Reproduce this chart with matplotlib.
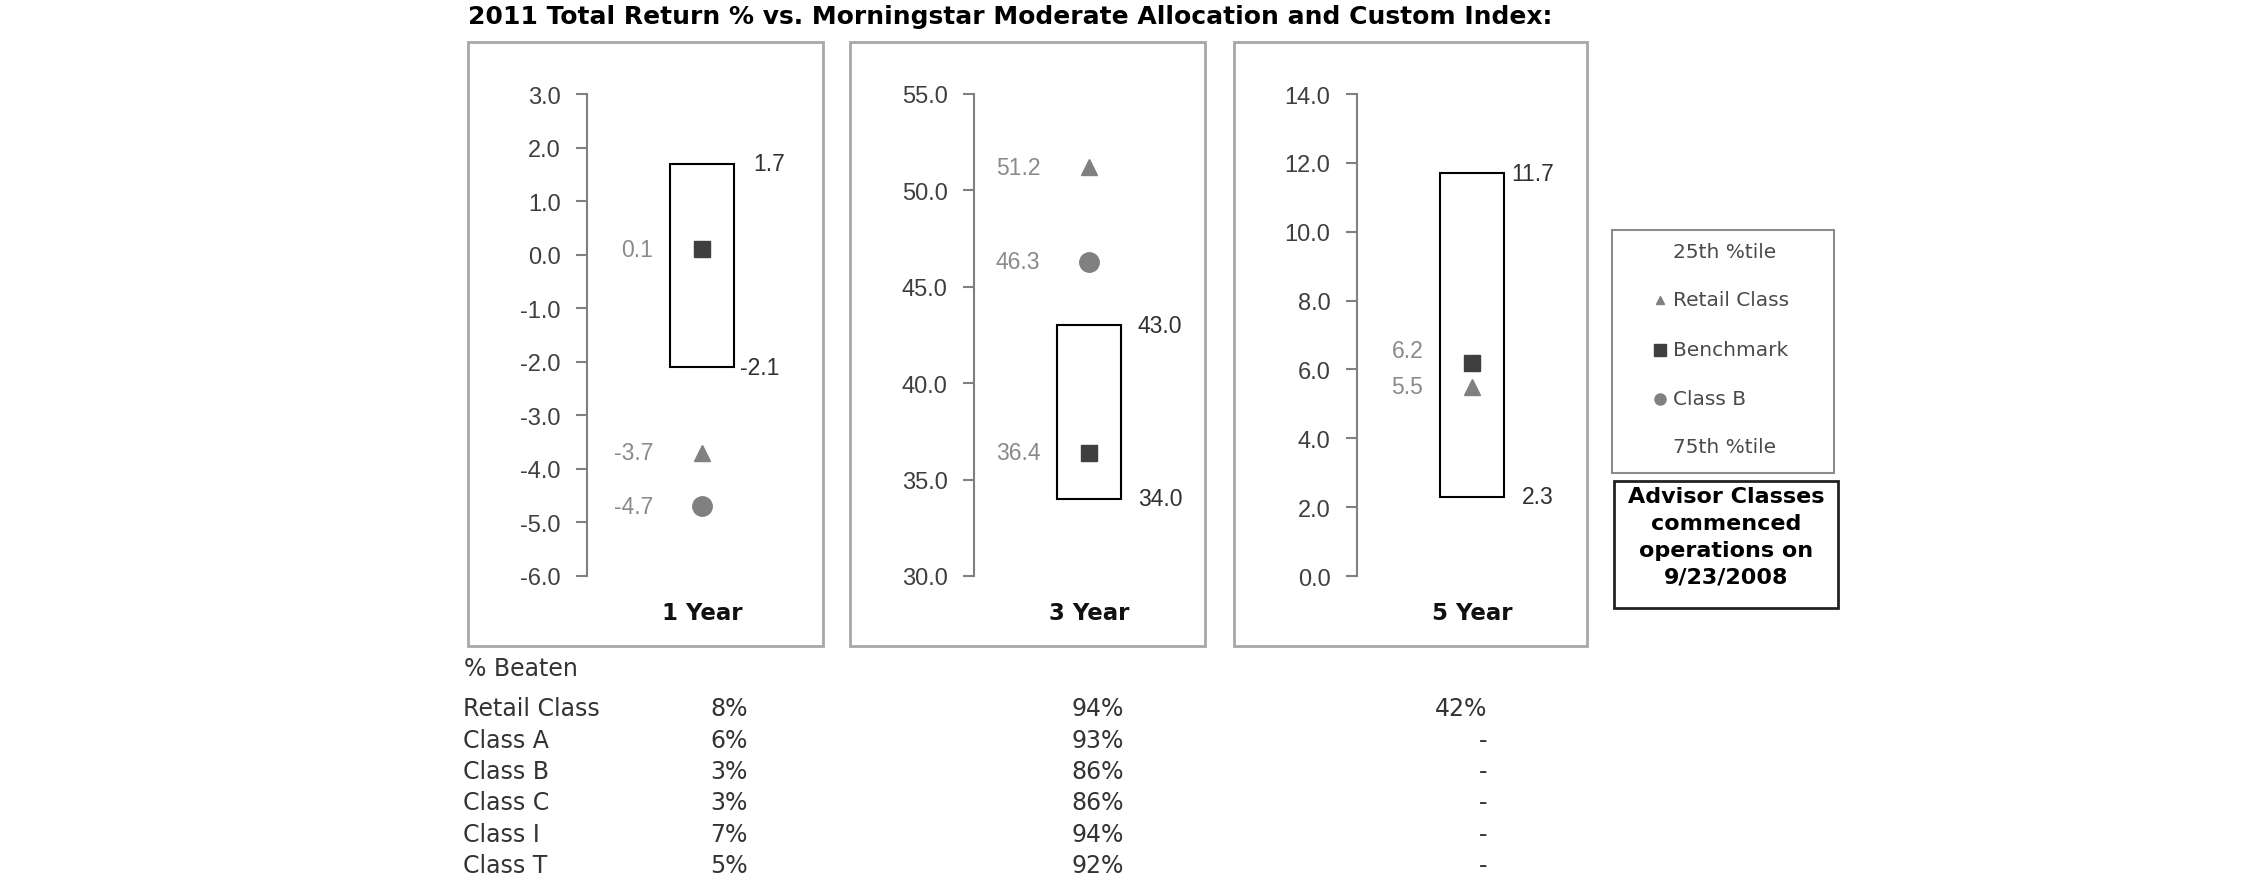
import matplotlib
matplotlib.use("Agg")
import matplotlib.pyplot as plt
from matplotlib.patches import Rectangle
from matplotlib.lines import Line2D
from matplotlib.ticker import MultipleLocator, FormatStrFormatter

plt.rcParams['axes.unicode_minus'] = False

# datos del grafico
periods = ['1 Year', '3 Year', '5 Year']
pct_25 = [1.7, 43.0, 11.7]
pct_75 = [-2.1, 34.0, 2.3]
retail = [-3.7, 51.2, 5.5]
benchmark = [0.1, 36.4, 6.2]
class_b = [-4.7, 46.3, None]
y_ranges = [(-6.0, 3.0), (30.0, 55.0), (0.0, 14.0)]
y_steps = [1.0, 5.0, 2.0]

beaten_labels = ['Retail Class', 'Class A', 'Class B', 'Class C', 'Class I', 'Class T']
beaten_1y = ['8%', '6%', '3%', '3%', '7%', '5%']
beaten_3y = ['94%', '93%', '86%', '86%', '94%', '92%']
beaten_5y = ['42%', '-', '-', '-', '-', '-']

legend_labels = ['25th %tile', 'Retail Class', 'Benchmark', 'Class B', '75th %tile']
TITLE = '2011 Total Return % vs. Morningstar Moderate Allocation and Custom Index:'
NOTE = ['Advisor Classes', 'commenced', 'operations on', '9/23/2008']

W, H = 2250, 895
fig = plt.figure(figsize=(W / 100, H / 100), dpi=100)


def fx(x):
    return x / W


def fy(y):
    return 1 - y / H


# layout en pixeles
spines_x = [587, 974, 1357]
frames_x = [(468, 823), (850, 1205), (1234, 1587)]
FRAME_TOP, FRAME_BOT = 43, 647
AX_TOP, AX_BOT = 95, 577
right_dx = [(14, 4), (12, 12), (5, 13)]
bench_dy = [0, 0, 9]
XC, HALF = 0.575, 0.16

GRAY = '#808080'
DARK = '#3f3f3f'

for i in range(3):
    x0, x1 = frames_x[i]
    fig.add_artist(Rectangle((fx(x0), fy(FRAME_BOT)), fx(x1 - x0), (FRAME_BOT - FRAME_TOP) / H,
                             transform=fig.transFigure, fill=False,
                             edgecolor='#a8a8a8', lw=2))

    ax = fig.add_axes([fx(spines_x[i]), fy(AX_BOT), fx(200), (AX_BOT - AX_TOP) / H])
    lo, hi = y_ranges[i]
    ax.set_ylim(lo, hi)
    ax.set_xlim(0, 1)
    ax.patch.set_visible(False)
    for s in ['top', 'right', 'bottom']:
        ax.spines[s].set_visible(False)
    ax.spines['left'].set_color(GRAY)
    ax.spines['left'].set_linewidth(1.5)
    ax.set_xticks([])
    ax.yaxis.set_major_locator(MultipleLocator(y_steps[i]))
    ax.yaxis.set_major_formatter(FormatStrFormatter('%.1f'))
    ax.tick_params(axis='y', length=8, width=1.5, color=GRAY, pad=11,
                   labelsize=17, labelcolor=DARK)
    for lab in ax.get_yticklabels():
        lab.set_fontfamily('Liberation Sans')

    # caja entre percentiles
    ax.add_patch(Rectangle((XC - HALF, pct_75[i]), 2 * HALF, pct_25[i] - pct_75[i],
                           facecolor='white', edgecolor='black', lw=1.5, zorder=2))
    tkw = dict(textcoords='offset points', fontsize=16.5, family='Liberation Sans',
               va='center')
    ax.annotate(f'{pct_25[i]:.1f}', (XC + HALF, pct_25[i]), xytext=(right_dx[i][0], 0),
                ha='left', color='#303030', **tkw)
    ax.annotate(f'{pct_75[i]:.1f}', (XC + HALF, pct_75[i]), xytext=(right_dx[i][1], 0),
                ha='left', color='#303030', **tkw)

    ax.plot([XC], [benchmark[i]], 's', ms=12, color=DARK, zorder=3)
    ax.annotate(f'{benchmark[i]:.1f}', (XC, benchmark[i]), xytext=(-35, bench_dy[i]),
                ha='right', color='#8a8a8a', **tkw)
    ax.plot([XC], [retail[i]], '^', ms=11, color=GRAY, zorder=3)
    ax.annotate(f'{retail[i]:.1f}', (XC, retail[i]), xytext=(-35, 0),
                ha='right', color='#8a8a8a', **tkw)
    if class_b[i] is not None:
        ax.plot([XC], [class_b[i]], 'o', ms=14, color=GRAY, zorder=3)
        ax.annotate(f'{class_b[i]:.1f}', (XC, class_b[i]), xytext=(-35, 0),
                    ha='right', color='#8a8a8a', **tkw)

    ax.text(XC, -0.075, periods[i], transform=ax.get_xaxis_transform(),
            ha='center', va='center', fontsize=16.5, fontweight='bold', color='#111111')

fig.text(fx(468), fy(17), TITLE, ha='left', va='center', fontsize=18,
         fontweight='bold', color='black')

# leyenda
fig.add_artist(Rectangle((fx(1612), fy(474)), fx(222), (474 - 231) / H,
                         transform=fig.transFigure, fill=False, edgecolor='#8c8c8c', lw=1.5))
leg_y = [253, 301, 351, 400, 448]
leg_marks = [None, ('^', 6, GRAY), ('s', 8, DARK), ('o', 8, GRAY), None]
for lab, yy, mk in zip(legend_labels, leg_y, leg_marks):
    fig.text(fx(1673), fy(yy), lab, ha='left', va='center', fontsize=14.5, color='#4a4a4a')
    if mk is not None:
        fig.add_artist(Line2D([fx(1660)], [fy(yy)], transform=fig.transFigure,
                              marker=mk[0], ms=mk[1], color=mk[2], lw=0))

# nota
fig.add_artist(Rectangle((fx(1614), fy(609)), fx(224), (609 - 482) / H,
                         transform=fig.transFigure, fill=False, edgecolor='#222222', lw=2))
for k, line in enumerate(NOTE):
    fig.text(fx(1726), fy(497 + 27 * k), line, ha='center', va='center',
             fontsize=16, fontweight='bold', color='black')

# tabla % Beaten
fig.text(fx(464), fy(669), '% Beaten', ha='left', va='center', fontsize=17, color='#333333')
for k in range(len(beaten_labels)):
    yy = fy(709 + 31.5 * k)
    fig.text(fx(463), yy, beaten_labels[k], ha='left', va='center', fontsize=17, color='#333333')
    fig.text(fx(748), yy, beaten_1y[k], ha='right', va='center', fontsize=17, color='#333333')
    fig.text(fx(1124), yy, beaten_3y[k], ha='right', va='center', fontsize=17, color='#333333')
    fig.text(fx(1487), yy, beaten_5y[k], ha='right', va='center', fontsize=17, color='#333333')

fig.savefig('out.png', dpi=100, facecolor='white')
